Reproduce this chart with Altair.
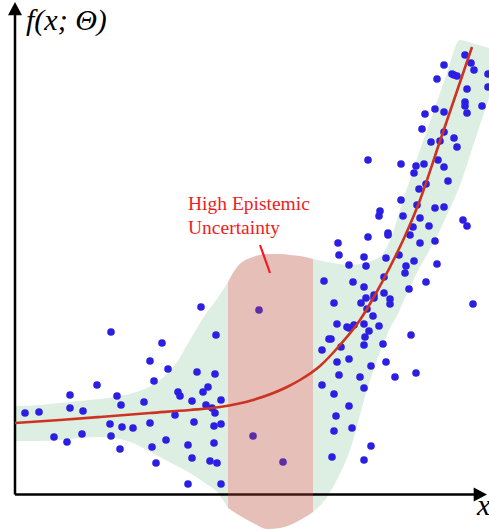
import altair as alt
import pandas as pd

# Noisy observations (x, f(x)) in plot units
point_x = [10, 24, 55, 55, 68, 82, 39, 52, 67, 95, 96, 102, 106, 107, 118, 105, 129, 135, 139, 153,
           135, 137, 141, 151, 160, 163, 165, 177, 182, 200, 193, 188, 191, 197, 200, 206, 179, 199, 206, 173,
           177, 199, 195, 202, 173, 206, 186, 96, 147, 201,
           244, 238, 268,
           324, 349, 334, 351, 371, 384, 391, 390, 399, 309, 338, 349, 369, 369, 359, 351, 359, 375, 375, 394,
           319, 346, 352, 358, 322, 332, 334, 339, 349, 354, 364, 314, 316, 350, 349, 368, 326, 307, 396, 322,
           334, 371, 356, 324, 345, 380, 401, 307, 319, 349, 334, 321, 337, 319, 356, 317, 349,
           386, 402, 420, 429, 365, 364, 388, 405, 414, 398, 448, 452, 373, 373, 395, 353, 323, 405, 420, 422,
           411, 458,
           450, 456, 459, 429, 437, 439, 442, 422, 473, 452, 473, 450, 450, 452, 467, 420, 429, 410, 407, 429,
           416, 425, 439, 442, 423, 353, 386, 401, 409, 399, 429, 433, 411, 404]
point_y = [80, 81, 98, 85, 82, 108, 56, 51, 59, 69, 57, 97, 88, 66, 65, 44, 91, 132, 112, 124,
           70, 46, 30, 53, 78, 101, 97, 92, 121, 119, 106, 101, 88, 85, 80, 93, 71, 67, 69, 48,
           35, 50, 32, 30, 9, 9, 186, 161, 150, 158,
           183, 57, 31,
           238, 236, 228, 227, 235, 238, 227, 220, 232, 212, 211, 206, 216, 200, 198, 195, 195, 194, 189, 204,
           190, 190, 184, 177, 169, 166, 165, 168, 169, 162, 167, 154, 154, 156, 148, 149, 146, 143, 158, 131,
           134, 131, 127, 118, 116, 116, 120, 108, 99, 105, 87, 77, 65, 62, 47, 36, 33,
           293, 288, 285, 286, 282, 277, 277, 275, 267, 266, 273, 267, 260, 258, 258, 256, 250, 250, 252, 229,
           211, 189,
           438, 430, 423, 428, 419, 418, 417, 414, 419, 404, 406, 391, 387, 380, 387, 384, 381, 379, 364, 361,
           351, 352, 355, 346, 333, 333, 329, 327, 329, 320, 326, 312, 309, 304]

# Uncertainty band: lower and upper edge along x
band_x = [0, 25, 45, 65, 85, 105, 118, 132, 145, 160, 175, 190, 202, 213, 222, 238, 252, 265, 275, 285,
          298, 312, 318, 335, 352, 365, 375, 382, 388, 395, 405, 415, 425, 432, 445, 460, 474]
band_top = [87, 88, 90, 92, 94, 97, 100, 105, 113, 128, 153, 178, 194, 211, 226, 236, 239, 239, 238, 237,
            234, 231, 230, 228, 231, 236, 253, 273, 293, 313, 343, 371, 400, 420, 453, 449, 445]
band_bottom = [52, 52, 53, 55, 56, 54, 50, 43, 36, 28, 20, 10, 1, -15, -21, -30, -36, -35, -32, -27,
               -19, -4, 6, 43, 103, 141, 165, 177, 191, 206, 226, 244, 263, 278, 308, 353, 395]
gap_start, gap_end = 213, 298  # region with no training data

# Fitted model f(x; Θ)
curve_x = [0, 45, 85, 135, 175, 205, 238, 272, 285, 305, 325, 345, 360, 375, 390, 405, 425, 457]
curve_y = [70, 73, 76, 80, 83, 86, 93, 106, 113, 127, 148, 173, 198, 226, 257, 293, 352, 446]

points = pd.DataFrame({"x": point_x, "y": point_y})
band = pd.DataFrame({"x": band_x, "lo": band_bottom, "hi": band_top})
curve = pd.DataFrame({"x": curve_x, "y": curve_y})

xs = alt.Scale(domain=[-15, 474], nice=False, zero=False)
ys = alt.Scale(domain=[-38, 493], nice=False, zero=False)
X = lambda f: alt.X(f, type="quantitative", scale=xs, axis=None)
Y = lambda f: alt.Y(f, type="quantitative", scale=ys, axis=None)


def band_part(lo, hi, **style):
    return alt.Chart(band).transform_filter(
        alt.FieldRangePredicate(field="x", range=[lo, hi])
    ).mark_area(interpolate="monotone", **style).encode(x=X("x"), y=Y("lo"), y2="hi")


green_left = band_part(-15, gap_start, color="#ddeee2")
green_right = band_part(gap_end, 474, color="#ddeee2")
red = band_part(gap_start, gap_end, color="#b54834", opacity=0.35)

dots = alt.Chart(points).mark_circle(color="#2b1fe3", opacity=1, size=58).encode(
    x=X("x"), y=Y("y"))

fit = alt.Chart(curve).mark_line(color="#cc3322", strokeWidth=2.6, interpolate="monotone").encode(
    x=X("x"), y=Y("y"))

# Coordinate axes with arrow heads
axes = pd.DataFrame({"x0": [0, 0], "y0": [-1.5, -1.5], "x1": [0, 459], "y1": [478, -1.5]})
axis_lines = alt.Chart(axes).mark_rule(color="black", strokeWidth=2.5).encode(
    x=X("x0"), y=Y("y0"), x2="x1", y2="y1")

heads = pd.DataFrame({"x": [0, 465], "y": [484, -1.5], "angle": [0, 90]})
arrow_heads = alt.Chart(heads).mark_point(
    shape="M-1,0.9L0,-1L1,0.9Z", filled=True, color="black", opacity=1, size=196
).encode(x=X("x"), y=Y("y"), angle=alt.Angle("angle:Q", scale=None))

labels = pd.DataFrame({"x": [11, 462], "y": [463, -22], "text": ["f(x; Θ)", "x"]})
axis_labels = alt.Chart(labels).mark_text(
    font="Liberation Serif", fontStyle="italic", fontSize=30, color="black",
    align="left", baseline="alphabetic"
).encode(x=X("x"), y=Y("y"), text="text:N")

note = pd.DataFrame({"x": [173, 173], "y": [283, 259], "text": ["High Epistemic", "Uncertainty"]})
note_text = alt.Chart(note).mark_text(
    font="Liberation Serif", fontSize=19.5, color="#ee1d23", align="left", baseline="alphabetic"
).encode(x=X("x"), y=Y("y"), text="text:N")

pointer = pd.DataFrame({"x0": [245], "y0": [248], "x1": [255], "y1": [220]})
pointer_line = alt.Chart(pointer).mark_rule(color="#ee1d23", strokeWidth=2.2).encode(
    x=X("x0"), y=Y("y0"), x2="x1", y2="y1")

chart = alt.layer(
    green_left, green_right, axis_lines, dots, red, fit, arrow_heads, axis_labels, note_text, pointer_line
).properties(
    width=489, height=531, padding=0, autosize="none"
).configure_view(stroke=None)

chart.save("out.html", embed_options={"renderer": "svg", "actions": False})
